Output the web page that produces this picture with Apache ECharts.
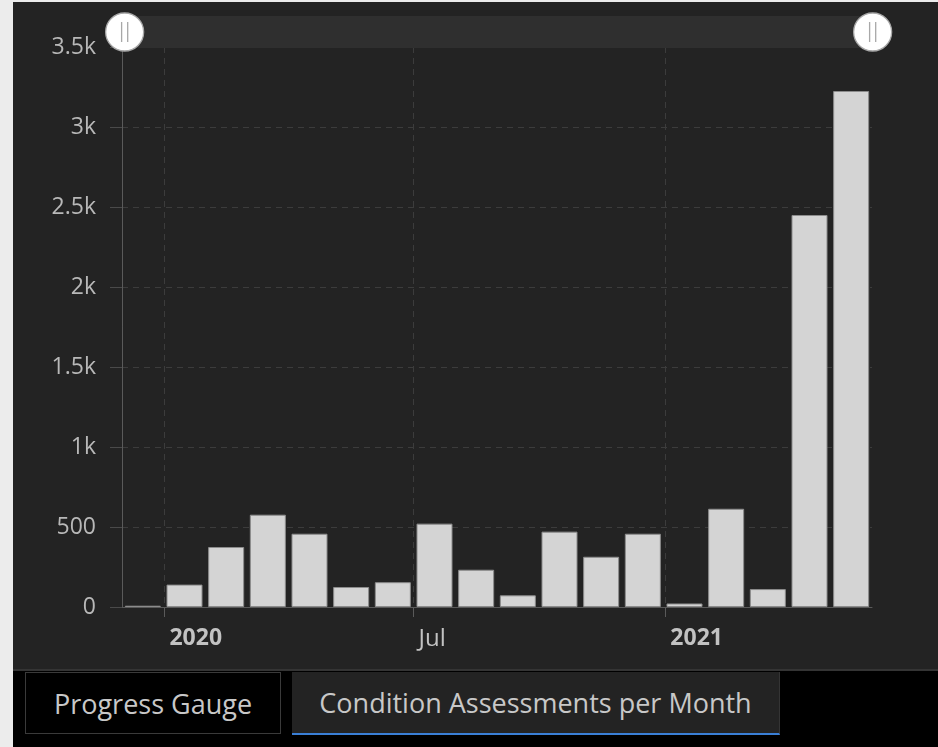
<!DOCTYPE html>
<html>
<head>
<meta charset="utf-8">
<script src="https://cdn.jsdelivr.net/npm/echarts@6/dist/echarts.min.js"></script>
<style>
  html, body { margin:0; padding:0; width:938px; height:747px; background:#ececec; overflow:hidden; font-family:"Open Sans", sans-serif; }
  #panel { position:absolute; left:13px; top:2px; width:925px; height:667px; background:#232323; border-bottom:2px solid #343434; }
  #bottom { position:absolute; left:13px; top:671px; width:925px; height:76px; background:#000; }
  #chart { position:absolute; left:0; top:0; width:938px; height:670px; }
  .tab { position:absolute; box-sizing:border-box; color:#c8c8c8; font-size:27px; display:flex; align-items:center; justify-content:center; white-space:nowrap; }
  #tab1 { left:25px; top:672px; width:256px; height:62px; border:1px solid #3a3a3a; background:#000; }
  #tab2 { left:292px; top:672px; width:488px; height:63px; background:#232323; border-right:1px solid #343434; border-bottom:2px solid #3a7fd6; }
</style>
</head>
<body>
<div id="panel"></div>
<div id="bottom"></div>
<div id="tab1" class="tab">Progress Gauge</div>
<div id="tab2" class="tab">Condition Assessments per Month</div>
<div id="chart"></div>
<script>
// Data
const months = ['2019-12','2020-01','2020-02','2020-03','2020-04','2020-05','2020-06','2020-07','2020-08','2020-09','2020-10','2020-11','2020-12','2021-01','2021-02','2021-03','2021-04','2021-05'];
const assessments = [8, 140, 375, 577, 458, 125, 155, 521, 233, 73, 471, 314, 458, 22, 614, 112, 2450, 3225];
const yTicks = [0, 500, 1000, 1500, 2000, 2500, 3000, 3500];
const monthNames = ['Jan','Feb','Mar','Apr','May','Jun','Jul','Aug','Sep','Oct','Nov','Dec'];

const xMin = new Date(2019, 11, 1).getTime();
const xMax = new Date(2021, 5, 1).getTime();
const DAY = 86400000;

const chart = echarts.init(document.getElementById('chart'), null, { renderer: 'canvas' });
const font = '"Open Sans", sans-serif';
chart.setOption({
  backgroundColor: 'transparent',
  animation: false,
  grid: { left: 122, right: 66, top: 47, bottom: 63, containLabel: false },
  dataZoom: [{
    type: 'slider',
    xAxisIndex: 0,
    start: 0, end: 100,
    top: 16, height: 32, left: 122, right: 66,
    backgroundColor: '#2f2f2f',
    fillerColor: '#2f2f2f',
    borderColor: 'transparent',
    showDataShadow: false,
    showDetail: false,
    brushSelect: false,
    moveHandleSize: 0,
    handleIcon: 'path://M0,50 A50,50 0 1,1 100,50 A50,50 0 1,1 0,50 Z M42,24 L42,76 M58,24 L58,76',
    handleSize: 38,
    handleStyle: { color: '#ffffff', borderColor: '#a8a8a8', borderWidth: 1.3 },
    emphasis: { handleStyle: { color: '#ffffff', borderColor: '#a8a8a8' } },
    dataBackground: { lineStyle: { opacity: 0 }, areaStyle: { opacity: 0 } }
  }],
  xAxis: [{
    type: 'category',
    data: months,
    position: 'bottom',
    boundaryGap: true,
    axisLine: { show: true, lineStyle: { color: '#5a5a5a', width: 1 } },
    axisTick: { show: false },
    axisLabel: { show: false },
    splitLine: { show: false }
  }, {
    type: 'time',
    position: 'bottom',
    offset: 0,
    min: xMin,
    max: xMax,
    splitNumber: 3,
    minInterval: 180 * DAY,
    maxInterval: 185 * DAY,
    axisLine: { show: false },
    axisTick: { show: true, length: 10, lineStyle: { color: '#5a5a5a' } },
    splitLine: { show: true, showMinLine: false, showMaxLine: false, lineStyle: { color: '#3c3c3c', type: [6, 5] } },
    axisLabel: {
      showMinLabel: false, showMaxLabel: false,
      align: 'left', padding: [0, 0, 0, 5],
      margin: 20,
      color: '#c2c2c2', fontSize: 24, fontFamily: font,
      formatter: function (v) {
        const d = new Date(v);
        if (d.getMonth() === 0) return '{b|' + d.getFullYear() + '}';
        return monthNames[d.getMonth()];
      },
      rich: { b: { fontWeight: 'bold', color: '#c2c2c2', fontSize: 23, fontFamily: font } }
    }
  }],
  yAxis: {
    type: 'value',
    min: 0, max: 3500, interval: 500,
    axisLine: { show: true, lineStyle: { color: '#5a5a5a', width: 1 } },
    axisTick: { show: true, length: 12, lineStyle: { color: '#4a4a4a' } },
    splitLine: { show: true, lineStyle: { color: '#3c3c3c', type: [6, 5] } },
    axisLabel: {
      margin: 26, color: '#b8b8b8', fontSize: 23, fontFamily: font,
      formatter: function (v) { return v >= 1000 ? (v / 1000) + 'k' : String(v); }
    }
  },
  series: [{
    type: 'bar',
    xAxisIndex: 0,
    data: assessments,
    barWidth: 36,
    itemStyle: { color: '#d4d4d4', borderColor: '#8c8c8c', borderWidth: 1 }
  }]
});
</script>
</body>
</html>
